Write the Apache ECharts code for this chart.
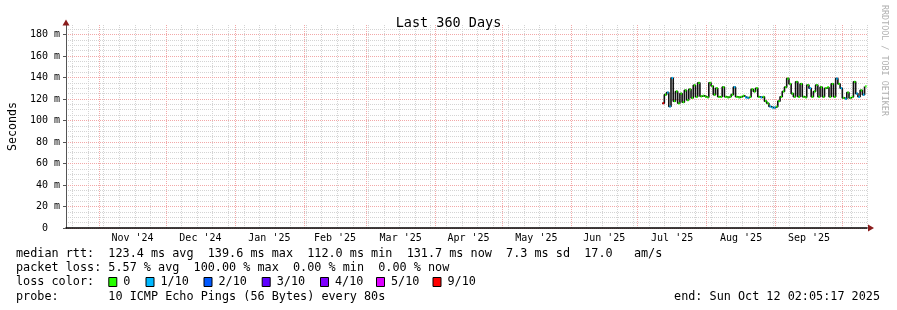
<!DOCTYPE html>
<html><head><meta charset="utf-8">
<script src="https://cdn.jsdelivr.net/npm/echarts@6/dist/echarts.min.js"></script>
<style>html,body{margin:0;padding:0;background:#fff}#c{width:897px;height:310px}</style>
</head><body><div id="c"></div>
<script>
// ---------------- data ----------------
const titleText = 'Last 360 Days';
const yAxisName = 'Seconds';
const endTimeText = '2025-10-12T02:05:17Z';
const rangeDays = 360;
const monthStarts = ['2024-11-01','2024-12-01','2025-01-01','2025-02-01','2025-03-01','2025-04-01',
  '2025-05-01','2025-06-01','2025-07-01','2025-08-01','2025-09-01','2025-10-01'];
const monthLabels = ["Nov '24","Dec '24","Jan '25","Feb '25","Mar '25","Apr '25",
  "May '25","Jun '25","Jul '25","Aug '25","Sep '25"];
const firstWeekLine = '2024-10-20';
const yMajorTicks = [0,20,40,60,80,100,120,140,160,180];
const yMax = 188.8;
const firstSampleDay = '2025-07-12';
// median rtt in ms, one value per day
const medianRtt = [
  116,124,126,113,139.5,118,127,116,125,117,
  128,119,129,121,132.7,122,135,122.5,123,122,
  121.5,135,132,124,130,122,122,131,122,121.5,
  122,124,131,122,121.5,122,123,121.5,121,122,
  129,127,130,122,121.5,122,118,116,113,112,
  112,113,118,122,127,131,139,134,125,122,
  136,122,134,122,121.5,133,130,122,127,133,
  122,131,122,130,131,122,134,122,139,134,
  130,121,120,126,121,122,136,125,122,128,
  124,131.7
];
// lost pings out of 10, one value per day
const lossCount = [
  9,0,1,1,1,0,0,0,0,0,
  0,0,0,0,0,0,0,0,0,0,
  0,0,0,0,0,0,0,0,0,0,
  0,0,1,0,0,0,0,1,1,0,
  0,0,0,0,1,0,0,0,1,1,
  1,0,0,0,0,0,0,0,0,0,
  0,0,0,0,0,0,1,0,0,0,
  0,0,0,0,0,0,0,0,1,0,
  1,0,1,0,0,0,0,1,1,0,
  1,0
];
const lossLegendLabels = ['0','1/10','2/10','3/10','4/10','5/10','9/10'];
const lossLegendCounts = [0,1,2,3,4,5,9];
const lossColors = ['#26ff00','#00b8ff','#0059ff','#5e00ff','#7e00ff','#dd00ff','#ff0000'];
const rowRtt = 'median rtt:  123.4 ms avg  139.6 ms max  112.0 ms min  131.7 ms now  7.3 ms sd  17.0   am/s';
const rowLoss = 'packet loss: 5.57 % avg  100.00 % max  0.00 % min  0.00 % now';
const rowColorLabel = 'loss color:';
const rowProbe = 'probe:       10 ICMP Echo Pings (56 Bytes) every 80s';
const endLabel = 'end: Sun Oct 12 02:05:17 2025';
const watermark = 'RRDTOOL / TOBI OETIKER';

// ---------------- layout ----------------
const DAY = 86400000;
const FONT = 'DejaVu Sans Mono';
const LEGEND_FONT = '11.8px "' + FONT + '"';
const endMs = Date.parse(endTimeText);
const startMs = endMs - rangeDays * DAY;
const monthMs = monthStarts.map(s => Date.parse(s));
const labelMs = monthLabels.map((_, i) => (monthMs[i] + monthMs[i + 1]) / 2);
const weekMs = [];
for (let t = Date.parse(firstWeekLine); t < endMs; t += 7 * DAY) weekMs.push(t);
const yMinor = [];
for (let v = 5; v < yMax; v += 5) if (v % 20 !== 0) yMinor.push(v);
const t0 = Date.parse(firstSampleDay);
const points = medianRtt.map((v, i) => [t0 + i * DAY, v, lossCount[i]]);
const colorOfCount = c => lossColors[lossLegendCounts.indexOf(c)] || '#ff0000';

const rowY = [254, 268, 282, 296.5];
const swatchX = [108.3, 145.5, 203.5, 261.7, 320, 376, 432.5];
const textEl = (txt, x, y, align) => ({
  type: 'text', x: x, y: y, silent: true,
  style: { text: txt, font: LEGEND_FONT, fill: '#000', textVerticalAlign: 'middle', textAlign: align || 'left' }
});

const graphics = [];
graphics.push(textEl(rowRtt, 16, rowY[0]));
graphics.push(textEl(rowLoss, 16, rowY[1]));
graphics.push(textEl(rowColorLabel, 16, rowY[2]));
lossLegendLabels.forEach((s, i) => {
  graphics.push({ type: 'rect', shape: { x: swatchX[i] + 0.5, y: rowY[2] - 4.5, width: 8, height: 9 },
    style: { fill: lossColors[i], stroke: '#000', lineWidth: 1 }, silent: true });
  graphics.push(textEl(s, swatchX[i] + 15, rowY[2]));
});
graphics.push(textEl(rowProbe, 16, rowY[3]));
graphics.push(textEl(endLabel, 880, rowY[3], 'right'));
graphics.push({ type: 'text', x: 884, y: 5, rotation: -Math.PI / 2, silent: true,
  style: { text: watermark, font: '8.4px "' + FONT + '"', fill: '#b0b0b0', textAlign: 'left', textVerticalAlign: 'middle' } });
// axis arrows
graphics.push({ type: 'polygon', shape: { points: [[62.5, 25.5], [69.5, 25.5], [66, 19.5]] }, style: { fill: '#8a1c1c' }, silent: true, z: 10 });
graphics.push({ type: 'polygon', shape: { points: [[868, 224.5], [868, 231.5], [874, 228]] }, style: { fill: '#8a1c1c' }, silent: true, z: 10 });

const chart = echarts.init(document.getElementById('c'), null, { renderer: 'canvas' });
chart.setOption({
  animation: false,
  backgroundColor: '#fff',
  title: { text: titleText, left: 'center', top: 11,
    textStyle: { fontFamily: FONT, fontSize: 13.5, fontWeight: 'normal', color: '#000' } },
  grid: { left: 66, right: 30, top: 25, bottom: 82, containLabel: false, outerBoundsMode: 'none' },
  xAxis: [
    { type: 'value', min: startMs, max: endMs, z: 1,
      axisLine: { show: true, lineStyle: { color: '#000', width: 1.5 } },
      axisTick: { show: false, customValues: monthMs },
      axisLabel: { show: true, customValues: labelMs, margin: 5, color: '#000',
        fontFamily: FONT, fontSize: 10,
        formatter: v => { const i = labelMs.indexOf(v); return i >= 0 ? monthLabels[i] : ''; } },
      splitLine: { show: true, lineStyle: { color: '#f2a8a8', width: 1, type: [1, 1] } } },
    { type: 'value', min: startMs, max: endMs, z: 0, position: 'bottom',
      axisLine: { show: false }, axisLabel: { show: false },
      axisTick: { show: false, customValues: weekMs },
      splitLine: { show: true, lineStyle: { color: '#d4d4d4', width: 1, type: [1, 1] } } }
  ],
  yAxis: [
    { type: 'value', min: 0, max: yMax, z: 1,
      name: yAxisName, nameLocation: 'middle', nameRotate: 90, nameGap: 47,
      nameTextStyle: { fontFamily: FONT, fontSize: 11.6, color: '#000' },
      axisLine: { show: true, lineStyle: { color: '#555', width: 1 } },
      axisTick: { show: true, customValues: yMajorTicks, length: 3, lineStyle: { color: '#555' } },
      axisLabel: { show: true, customValues: yMajorTicks, margin: 6, color: '#000',
        fontFamily: FONT, fontSize: 10, formatter: v => v === 0 ? '0  ' : v + ' m' },
      splitLine: { show: true, lineStyle: { color: '#f2a8a8', width: 1, type: [1, 1] } } },
    { type: 'value', min: 0, max: yMax, z: 0, position: 'left',
      axisLine: { show: false }, axisLabel: { show: false },
      axisTick: { show: false, customValues: yMinor },
      splitLine: { show: true, lineStyle: { color: '#d4d4d4', width: 1, type: [1, 1] } } }
  ],
  series: [
    { type: 'line', xAxisIndex: 0, yAxisIndex: 0, step: 'end', showSymbol: false,
      data: points.map(p => [p[0], p[1]]),
      lineStyle: { color: '#111', width: 1.6 }, z: 3 },
    { type: 'custom', xAxisIndex: 0, yAxisIndex: 0, z: 4,
      data: points,
      renderItem: (params, api) => {
        const t = api.value(0), v = api.value(1), c = api.value(2);
        const a = api.coord([t, v]);
        const b = api.coord([t + DAY, v]);
        return { type: 'line', shape: { x1: a[0] + 0.6, y1: a[1], x2: b[0] - 0.2, y2: b[1] },
          style: { stroke: colorOfCount(c), lineWidth: 2.2 } };
      } }
  ],
  graphic: graphics
});
</script></body></html>
